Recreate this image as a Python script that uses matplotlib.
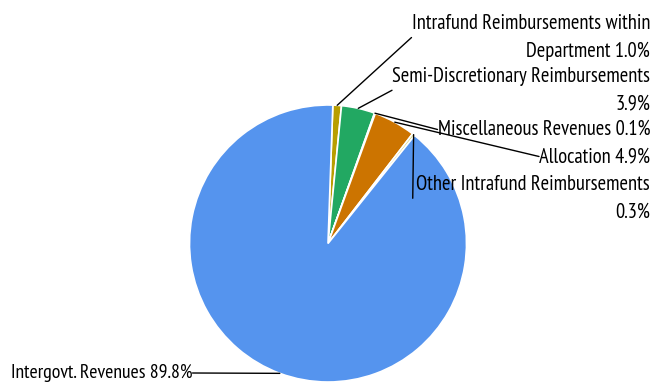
import numpy as np
import matplotlib
matplotlib.use("Agg")
import matplotlib.pyplot as plt

# Revenue sources and their share of the total (percent)
labels = [
    "Intrafund Reimbursements within\nDepartment",
    "Semi-Discretionary Reimbursements\n",
    "Miscellaneous Revenues",
    "Allocation",
    "Other Intrafund Reimbursements\n",
    "Intergovt. Revenues",
]
shares = [1.0, 3.9, 0.1, 4.9, 0.3, 89.8]
colors = ["#b89e00", "#22a862", "#8e6bbf", "#cc7400", "#d2d47a", "#5594ee"]

# label anchor: x, top y (pixels from the top-left corner), side the leader meets,
# and where along the label box the leader attaches
label_pos = [
    (650, 14, "right", 0.0),
    (650, 67, "right", 0.0),
    (650, 120, "right", 0.0),
    (650, 147, "right", 0.0),
    (650, 175, "right", -0.015),
    (11, 364, "left", 1.0),
]

W, H = 653, 385
plt.rcParams["font.family"] = ["PT Sans Narrow", "Roboto Condensed", "DejaVu Sans"]

fig = plt.figure(figsize=(W / 100, H / 100), dpi=100)
ax = fig.add_axes([0, 0, 1, 1])

cx, cy, r = 328, H - 243.5, 138.5
wedges, _ = ax.pie(
    shares,
    colors=colors,
    startangle=88,
    counterclock=False,
    center=(cx, cy),
    radius=r,
    wedgeprops=dict(edgecolor="white", linewidth=1.2),
    frame=True,
)
ax.set_xlim(0, W)
ax.set_ylim(0, H)
ax.set_aspect("equal")
ax.axis("off")

for w, lab, val, (tx, ty, side, relx) in zip(wedges, labels, shares, label_pos):
    mid = np.deg2rad((w.theta1 + w.theta2) / 2)
    px, py = cx + r * np.cos(mid), cy + r * np.sin(mid)
    text = f"{lab}{val:.1f}%" if lab.endswith("\n") else f"{lab} {val:.1f}%"
    ha = "right" if side == "right" else "left"
    ax.annotate(
        text,
        xy=(px, py),
        xytext=(tx, H - ty),
        ha=ha,
        va="top",
        ma="right",
        fontsize=14.8 if side == "right" else 14.2,
        color="black",
        linespacing=1.57,
        arrowprops=dict(arrowstyle="-", color="black", lw=1.0,
                        relpos=(relx, 0.5), patchA=None,
                        shrinkA=0, shrinkB=0),
    )

fig.savefig("out.png", dpi=100)
